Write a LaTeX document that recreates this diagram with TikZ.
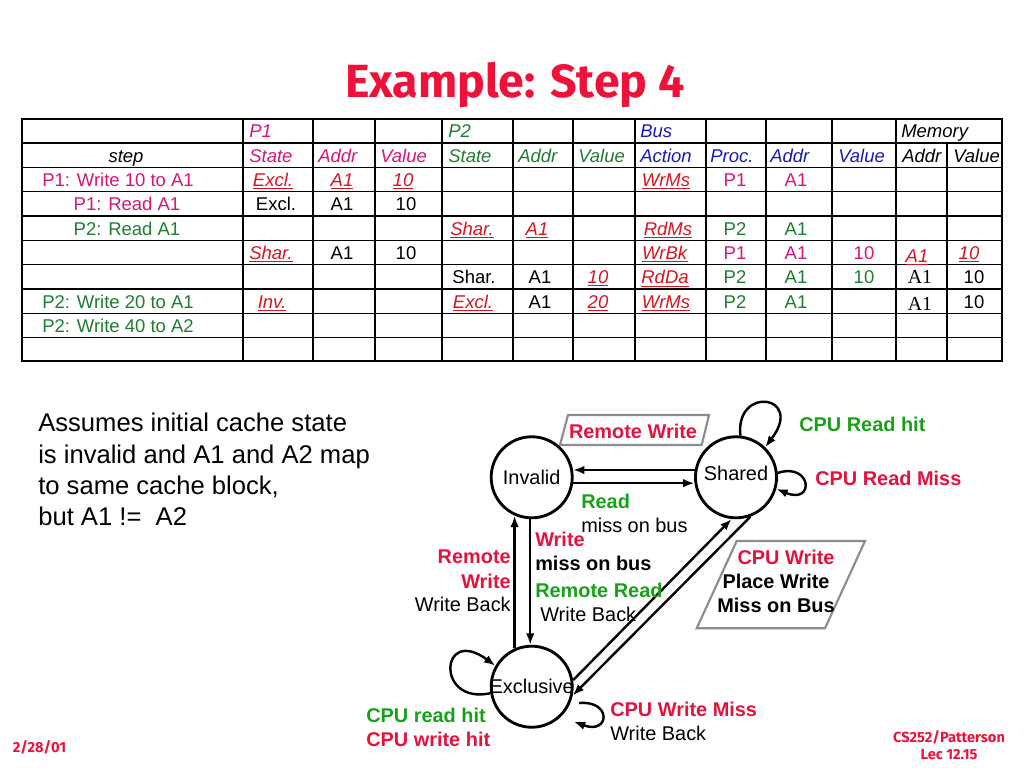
\documentclass[tikz,border=0pt]{standalone}
\usepackage{fontspec}
\setmainfont{Liberation Sans}
\newfontfamily\timesfont{Liberation Serif}
\newfontfamily\slidefont{Fira Sans}
\usetikzlibrary{arrows.meta}
\definecolor{titlered}{RGB}{238,18,58}
\definecolor{pone}{RGB}{215,20,120}
\definecolor{ptwo}{RGB}{30,125,50}
\definecolor{busblue}{RGB}{25,25,185}
\definecolor{chgred}{RGB}{215,20,30}
\definecolor{lblred}{RGB}{228,18,60}
\definecolor{lblgreen}{RGB}{25,160,25}
\newcommand\upd[1]{\textcolor{chgred}{\underline{\textit{#1}}}}

\begin{document}
    \begin{tikzpicture}[x=0.703125pt,y=-0.703125pt,
        tx/.style={inner sep=0pt,font=\fontsize{13}{15}\selectfont,text height=9.3pt,text depth=0pt},
        hd/.style={tx,anchor=west,font=\fontsize{13}{15}\selectfont\itshape},
        stnode/.style={circle,draw,line width=2pt,minimum size=57pt,inner sep=0pt,font=\fontsize{14}{16}\selectfont},
        lbl/.style={inner sep=0pt,anchor=west,font=\bfseries\fontsize{14}{16}\selectfont},
        lblreg/.style={inner sep=0pt,anchor=west,font=\fontsize{14}{16}\selectfont},
        arr/.style={-{Latex[length=8pt,width=6pt]},line width=1.7pt},
        pbox/.style={draw=gray!90,line width=1.5pt}]
        \useasboundingbox (0,0) rectangle (1024,768);

        \node[anchor=base,text=titlered,font=\slidefont\bfseries\fontsize{32.7}{38}\selectfont] (title) at (515,98) {Example: Step 4};

        \draw[line width=1.5pt] (22,119) rectangle (1002,361);
        \foreach \x in {243,313,375,442,513,573,635,706,766,832,896}
            \draw[line width=0.8pt] (\x,119) -- (\x,361);
        \draw[line width=0.8pt] (947,143) -- (947,361);
        \foreach \y in {143,167.3,191.7,216,240.3,264.7,289,313.3,337.7}
            \draw[line width=1pt] (22,\y) -- (1002,\y);

        \node[hd,text=pone] (hp1) at (249,131) {P1};
        \node[hd,text=ptwo] (hp2) at (448,131) {P2};
        \node[hd,text=busblue] (hbus) at (640,131) {Bus};
        \node[hd] (hmem) at (901,131) {Memory};
        \node[tx,font=\fontsize{13}{15}\selectfont\itshape] (hstep) at (126,155.5) {step};
        \node[hd,text=pone] (hp1st) at (249,155.5) {State};
        \node[hd,text=pone] (hp1ad) at (318,155.5) {Addr};
        \node[hd,text=pone] (hp1va) at (380,155.5) {Value};
        \node[hd,text=ptwo] (hp2st) at (448,155.5) {State};
        \node[hd,text=ptwo] (hp2ad) at (518,155.5) {Addr};
        \node[hd,text=ptwo] (hp2va) at (578,155.5) {Value};
        \node[hd,text=busblue] (hbact) at (640,155.5) {Action};
        \node[hd,text=busblue] (hbpr) at (710,155.5) {Proc.};
        \node[hd,text=busblue] (hbad) at (770,155.5) {Addr};
        \node[hd,text=busblue] (hbva) at (838,155.5) {Value};
        \node[hd] (hmad) at (902,155.5) {Addr};
        \node[hd] (hmva) at (953,155.5) {Value};

        \node[tx,text=pone] (s3) at (118,180) {P1: Write 10 to A1};
        \node[tx] (a3) at (273,180) {\upd{Excl.}};
        \node[tx] (b3) at (342,180) {\upd{A1}};
        \node[tx] (c3) at (403,180) {\upd{10}};
        \node[tx] (g3) at (666,180) {\upd{WrMs}};
        \node[tx,text=pone] (h3) at (735,180) {P1};
        \node[tx,text=pone] (i3) at (796,180) {A1};

        \node[tx,text=pone] (s4) at (127,204) {P1: Read A1};
        \node[tx] (a4) at (276,204) {Excl.};
        \node[tx] (b4) at (342,204) {A1};
        \node[tx] (c4) at (406,204) {10};

        \node[tx,text=ptwo] (s5) at (127,228.5) {P2: Read A1};
        \node[tx] (d5) at (472,228.5) {\upd{Shar.}};
        \node[tx] (e5) at (537,228.5) {\upd{A1}};
        \node[tx] (g5) at (668,228.5) {\upd{RdMs}};
        \node[tx,text=ptwo] (h5) at (735,228.5) {P2};
        \node[tx,text=ptwo] (i5) at (796,228.5) {A1};

        \node[tx] (a6) at (271,253) {\upd{Shar.}};
        \node[tx] (b6) at (342,253) {A1};
        \node[tx] (c6) at (406,253) {10};
        \node[tx] (g6) at (665,253) {\upd{WrBk}};
        \node[tx,text=pone] (h6) at (735,253) {P1};
        \node[tx,text=pone] (i6) at (796,253) {A1};
        \node[tx,text=pone] (j6) at (864,253) {10};
        \node[tx] (k6) at (917,256) {\upd{A1}};
        \node[tx] (l6) at (969,253) {\upd{10}};

        \node[tx] (d7) at (474,277) {Shar.};
        \node[tx] (e7) at (540,277) {A1};
        \node[tx] (f7) at (598,277) {\upd{10}};
        \node[tx] (g7) at (665,277) {\upd{RdDa}};
        \node[tx,text=ptwo] (h7) at (735,277) {P2};
        \node[tx,text=ptwo] (i7) at (796,277) {A1};
        \node[tx,text=ptwo] (j7) at (864,277) {10};
        \node[tx,font=\timesfont\fontsize{14}{15}\selectfont] (k7) at (920,277) {A1};
        \node[tx] (l7) at (974,277) {10};

        \node[tx,text=ptwo] (s8) at (118,301.5) {P2: Write 20 to A1};
        \node[tx] (a8) at (272,301.5) {\upd{Inv.}};
        \node[tx] (d8) at (473,301.5) {\upd{Excl.}};
        \node[tx] (e8) at (540,301.5) {A1};
        \node[tx] (f8) at (598,301.5) {\upd{20}};
        \node[tx] (g8) at (666,301.5) {\upd{WrMs}};
        \node[tx,text=ptwo] (h8) at (735,301.5) {P2};
        \node[tx,text=ptwo] (i8) at (796,301.5) {A1};
        \node[tx,font=\timesfont\fontsize{14}{15}\selectfont] (k8) at (920,304) {A1};
        \node[tx] (l8) at (974,301.5) {10};

        \node[tx,text=ptwo] (s9) at (118,325.5) {P2: Write 40 to A2};

        \node[anchor=north west,align=left,inner sep=0pt,font=\fontsize{18}{22}\selectfont] (note) at (38,413) {Assumes initial cache state\\is invalid and A1 and A2 map\\to same cache block,\\but A1 !=\ \ A2};

        \node[stnode] (inv) at (531.7,477.3) {\makebox[0pt]{Invalid}};
        \node[stnode] (shr) at (736,477.3) {\makebox[0pt]{\raisebox{6pt}{Shared}}};
        \node[stnode] (exc) at (531.7,686.7) {\makebox[0pt]{Exclusive}};

        \draw[arr] (shr.170) -- (inv.10);
        \draw[arr] (inv.-8) -- (shr.188);
        \draw[arr] (exc.114) -- (inv.246);
        \draw[arr] (inv.268) -- (exc.92);
        \draw[arr] (exc.9) -- (shr.264);
        \draw[arr] (shr.290) -- (exc.348);
        \draw[arr] (shr.84) .. controls (735,385) and (805,395) .. (shr.46);
        \draw[arr] (shr.6) .. controls (812,462) and (815,505) .. (shr.-16);
        \draw[arr] (exc.189) .. controls (435,705) and (440,625) .. (exc.150);
        \draw[arr] ([shift={(8,2)}]exc.-20) .. controls (612,700) and (610,735) .. ([shift={(10,8)}]exc.-40);

        \draw[pbox] (568,415) -- (709,415) -- (701.7,445) -- (560,445) -- cycle;
        \node[lbl,anchor=center,text=lblred] (rwr) at (633,431) {Remote Write};
        \draw[pbox] (736.7,541) -- (865,541) -- (825,628.3) -- (696.7,628.3) -- cycle;
        \node[lbl,anchor=center,text=lblred] (cpuw) at (786,557) {CPU Write};
        \node[lbl,anchor=center] (plw) at (776,581) {Place Write};
        \node[lbl,anchor=center] (mob) at (776,605) {Miss on Bus};

        \node[lbl,text=lblgreen] (crh) at (799,424) {CPU Read hit};
        \node[lbl,text=lblred] (crm) at (815,478) {CPU Read Miss};
        \node[lbl,text=lblgreen] (rd) at (581,501) {Read};
        \node[lblreg] (rdm) at (581,525) {miss on bus};
        \node[lbl,text=lblred] (wr) at (535,539) {Write};
        \node[lbl] (wrm) at (535,563) {miss on bus};
        \node[lbl,text=lblgreen] (rrd) at (535,590) {Remote Read};
        \node[lblreg] (rrdwb) at (540,614) {Write Back};
        \node[lbl,anchor=east,text=lblred] (rw1) at (511,557) {Remote};
        \node[lbl,anchor=east,text=lblred] (rw2) at (511,581) {Write};
        \node[lblreg,anchor=east] (rwwb) at (511,604) {Write Back};
        \node[lbl,text=lblred] (cwm) at (610,709) {CPU Write Miss};
        \node[lblreg] (cwmwb) at (610,733) {Write Back};
        \node[lbl,text=lblgreen] (crdh) at (366,715) {CPU read hit};
        \node[lbl,text=lblred] (cwrh) at (366,739) {CPU write hit};

        \node[text=titlered,font=\slidefont\bfseries\fontsize{10.3}{11.5}\selectfont] (date) at (39.5,747) {2/28/01};
        \node[text=titlered,font=\slidefont\bfseries\fontsize{10.3}{11.5}\selectfont,align=center] (lec) at (949,745) {CS252/Patterson\\Lec 12.15};
    \end{tikzpicture}
\end{document}
